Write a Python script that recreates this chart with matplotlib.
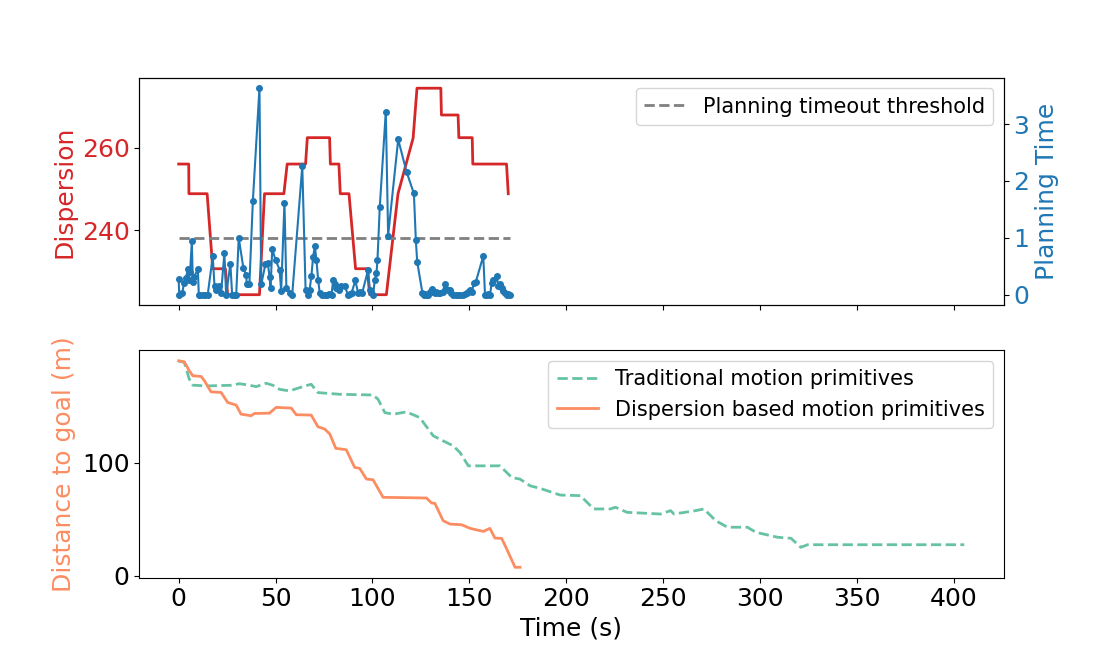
import numpy as np
import matplotlib
matplotlib.use("Agg")
import matplotlib.pyplot as plt

plt.rcParams['font.size'] = 18

# dispersion of the active primitive set over time
disp_t = [0, 5.2, 5.3, 14.7, 17.6, 24.1, 25.3, 41.7, 44.3, 54.3, 56.0, 65.5, 66.4,
          77.9, 78.3, 82.7, 83.4, 87.9, 91.3, 97.3, 98.6, 107.2, 113.2, 121.0, 123.0,
          135.3, 135.6, 144.2, 144.6, 151.5, 151.8, 169.2, 170.1]
disp_v = [256.1, 256.1, 248.9, 248.9, 230.7, 230.7, 224.4, 224.4, 248.9, 248.9, 256.1,
          256.1, 262.5, 262.5, 256.1, 256.1, 248.9, 248.9, 230.7, 230.7, 224.4, 224.4,
          248.9, 262.4, 274.5, 274.5, 268.0, 268.0, 262.5, 262.5, 256.1, 256.1, 248.9]

# planning time per replan
plan_t = [0.0, 0.3, 1.9, 2.7, 3.8, 4.7, 5.2, 5.9, 6.8, 7.3, 8.1, 9.9, 10.4, 11.2, 12.4,
          13.7, 15.0, 17.6, 18.5, 19.3, 20.7, 21.9, 23.6, 24.5, 26.7, 27.6, 28.6, 29.7,
          31.0, 33.4, 34.8, 35.2, 36.5, 38.3, 41.7, 42.6, 44.8, 46.0, 46.9, 47.4, 48.3,
          50.0, 52.1, 52.9, 54.6, 55.6, 57.4, 58.6, 63.8, 65.5, 66.5, 67.6, 68.5, 69.4,
          70.3, 71.1, 72.0, 72.8, 74.0, 75.4, 76.5, 77.7, 78.9, 79.7, 80.6, 81.4, 82.6,
          84.0, 85.7, 87.4, 88.3, 89.2, 91.2, 92.6, 93.6, 94.7, 97.8, 98.6, 99.5, 100.4,
          101.2, 102.1, 102.6, 103.8, 106.9, 108.1, 113.3, 117.6, 121.4, 122.4, 123.1,
          125.8, 126.5, 127.2, 127.9, 128.6, 129.8, 130.5, 131.2, 132.2, 133.0, 134.0,
          134.8, 136.2, 137.4, 138.2, 139.0, 140.0, 140.8, 141.7, 143.0, 144.2, 145.1,
          146.5, 147.6, 148.6, 149.5, 150.3, 151.2, 152.4, 153.4, 157.2, 158.1, 159.0,
          159.8, 160.7, 161.5, 162.3, 164.1, 165.0, 165.8, 166.7, 167.5, 168.4, 169.2,
          170.1, 171.0]
plan_v = [0.27, 0.0, 0.03, 0.2, 0.29, 0.45, 0.26, 0.4, 0.94, 0.23, 0.32, 0.45, 0.0, 0.0,
          0.0, 0.0, 0.0, 0.68, 0.15, 0.08, 0.15, 0.03, 0.73, 0.0, 0.54, 0.0, 0.0, 0.0,
          1.0, 0.47, 0.35, 0.18, 0.18, 1.65, 3.63, 0.18, 0.54, 0.56, 0.32, 0.12, 0.8,
          0.61, 0.44, 0.06, 1.62, 0.12, 0.03, 0.0, 2.26, 0.09, 0.0, 0.09, 0.33, 0.67,
          0.85, 0.61, 0.26, 0.03, 0.0, 0.0, 0.0, 0.02, 0.0, 0.25, 0.18, 0.12, 0.08,
          0.15, 0.15, 0.0, 0.02, 0.03, 0.25, 0.03, 0.05, 0.03, 0.44, 0.09, 0.04, 0.0,
          0.26, 0.38, 0.61, 1.55, 3.22, 1.04, 2.73, 2.16, 1.78, 0.96, 0.58,
          0.03, 0.0, 0.02, 0.0, 0.0, 0.05, 0.1, 0.05, 0.03, 0.05, 0.03,
          0.03, 0.05, 0.18, 0.1, 0.08, 0.08, 0.03, 0.0, 0.0, 0.0, 0.0,
          0.0, 0.02, 0.03, 0.05, 0.08, 0.05, 0.2, 0.23, 0.68, 0.0, 0.0,
          0.02, 0.0, 0.2, 0.25, 0.33, 0.15, 0.18, 0.12, 0.06, 0.03, 0.0,
          0.02, 0.0]
threshold = 1.0

# distance to goal, traditional primitives
trad_t = [0, 2.9, 5.5, 7.3, 14.2, 27.1, 31.4, 36.6, 40.0, 45.2, 48.6, 52.1, 57.2, 64.1,
          68.4, 71.9, 83.2, 100.3, 102.9, 106.4, 110.7, 117.5, 124.4, 131.4, 134.8,
          141.7, 145.2, 149.5, 165.8, 171.9, 176.2, 181.4, 186.6, 191.7, 196.9, 207.3,
          214.2, 222.8, 225.4, 231.4, 248.7, 253.9, 255.6, 266.8, 271.1, 277.1, 283.2,
          293.5, 297.9, 309.1, 316.0, 321.1, 324.6, 405.4]
trad_d = [190, 189, 174, 168.7, 168, 168.6, 170, 168.6, 167.4, 170.4, 168.6, 165, 163.6,
          167.4, 169.5, 162.1, 160.6, 160, 156.2, 144.4, 142.9, 145, 140, 123.8, 120.8,
          114.9, 109, 97.2, 97.2, 86.9, 85.4, 79.5, 77.2, 74.3, 71.3, 70.8, 59, 59, 60.5,
          56, 54.5, 57.5, 54.5, 57.5, 59, 48.7, 42.8, 42.8, 38.3, 33.9, 33, 25, 27.3, 27.3]

# distance to goal, dispersion based primitives
disp_dt = [0, 2.9, 5.5, 7.3, 11.6, 13.3, 16.7, 21.9, 25.3, 29.7, 32.2, 37.4, 39.1, 46.9,
           50.3, 58.1, 60.7, 68.4, 71.9, 75.4, 78.0, 81.1, 86.5, 90.8, 93.4, 96.9, 100.3,
           105.5, 127.9, 130.5, 132.2, 136.5, 140.0, 146.0, 150.4, 157.2, 160.6, 163.2,
           166.7, 169.3, 173.6, 176.2]
disp_dd = [190.3, 189.4, 181.4, 177, 176.4, 172.6, 162.8, 162.2, 153.4, 151, 143, 141.6,
           143.6, 143.9, 149, 148.4, 142.5, 142.2, 131.8, 129.8, 125.4, 112.7, 111.5,
           95.9, 95, 85.5, 84.9, 69.3, 68.7, 64.3, 64, 48.6, 45.6, 45, 41.8, 39.1, 41.8,
           33.2, 32.9, 23.5, 7.3, 7.3]

fig, (ax1, ax3) = plt.subplots(2, 1, sharex=True, figsize=(11.15, 6.49))

ax1.plot(disp_t, disp_v, color='tab:red', linewidth=2)
ax1.set_ylabel('Dispersion', color='tab:red')
ax1.tick_params(axis='y', labelcolor='tab:red')

ax2 = ax1.twinx()
ax2.plot(plan_t, [threshold] * len(plan_t), '--', color='gray', linewidth=2,
         label='Planning timeout threshold')
ax2.plot(plan_t, plan_v, '-o', color='tab:blue', markersize=4)
ax2.set_ylabel('Planning Time', color='tab:blue')
ax2.tick_params(axis='y', labelcolor='tab:blue')
ax2.legend(loc='upper right', fontsize=15)

ax3.plot(trad_t, trad_d, '--', color='#66c2a5', linewidth=2,
         label='Traditional motion primitives')
ax3.plot(disp_dt, disp_dd, '-', color='#fc8d62', linewidth=2,
         label='Dispersion based motion primitives')
ax3.set_ylabel('Distance to goal (m)', color='#fc8d62')
ax3.set_xlabel('Time (s)')
ax3.legend(loc='upper right', fontsize=15)

plt.savefig('out.png')
